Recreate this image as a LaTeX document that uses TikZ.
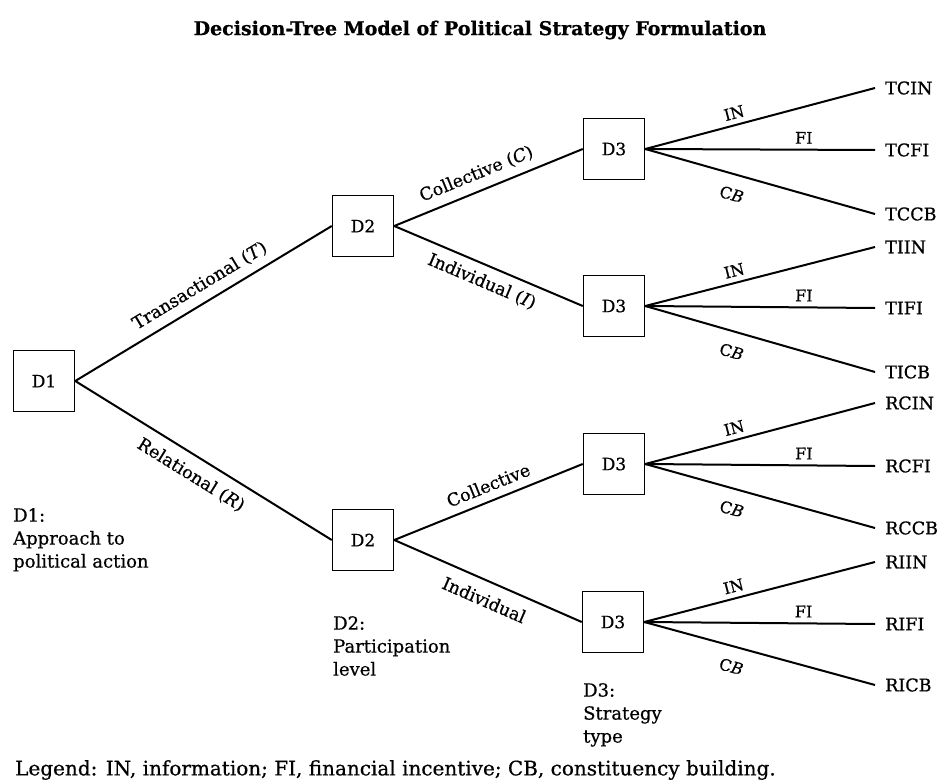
\documentclass[tikz,border=0pt]{standalone}
\usepackage{fontspec}
\setmainfont{DejaVu Serif}[FakeBold=0.6]
\begin{document}
\begin{tikzpicture}[x=1pt,y=-1pt,
  dbox/.style={draw,line width=1.5pt,minimum width=61pt,minimum height=61pt,inner sep=0pt,font=\fontsize{17}{19}\selectfont},
  br/.style={line width=2pt},
  lab/.style={font=\fontsize{17.5}{19}\selectfont,sloped,inner sep=8pt},
  slab/.style={font=\fontsize{16}{18}\selectfont,sloped,inner sep=5pt},
  leaf/.style={anchor=west,inner ysep=5pt,inner xsep=10pt,font=\fontsize{17.5}{19}\selectfont},
  captext/.style={anchor=north west,align=left,inner sep=0pt,font=\fontsize{18}{23}\selectfont}]
\useasboundingbox (0,0) rectangle (946,784);
\fill[white] (0,0) rectangle (946,784);
\node[font=\bfseries\fontsize{19}{22}\selectfont] (title) at (480,30) {Decision-Tree Model of Political Strategy Formulation};
% decision boxes
\node[dbox] (d1) at (44,381) {D1};
\node[dbox] (d2t) at (363,226) {D2};
\node[dbox] (d2b) at (363,540) {D2};
\node[dbox] (d3a) at (614,149) {D3};
\node[dbox] (d3b) at (614,306) {D3};
\node[dbox] (d3c) at (614,464) {D3};
\node[dbox] (d3d) at (613,622) {D3};
% leaves
\node[leaf] (tcin) at (875,88) {TCIN};
\node[leaf] (tcfi) at (875,150) {TCFI};
\node[leaf] (tccb) at (875,214) {TCCB};
\node[leaf] (tiin) at (875,247) {TIIN};
\node[leaf] (tifi) at (875,308) {TIFI};
\node[leaf] (ticb) at (875,372) {TICB};
\node[leaf] (rcin) at (875,403) {RCIN};
\node[leaf] (rcfi) at (875,466) {RCFI};
\node[leaf] (rccb) at (875,528) {RCCB};
\node[leaf] (riin) at (875,562) {RIIN};
\node[leaf] (rifi) at (875,624) {RIFI};
\node[leaf] (ricb) at (875,685) {RICB};
% first level
\draw[br] (d1.east) -- node[lab,above,pos=0.52] {Transactional (\textit{T})} (d2t.west);
\draw[br] (d1.east) -- node[lab,below,pos=0.49,inner sep=10pt] {Relational (\textit{R})} (d2b.west);
% second level
\draw[br] (d2t.east) -- node[lab,above,pos=0.47] {Collective (\textit{C})} (d3a.west);
\draw[br] (d2t.east) -- node[lab,below,pos=0.5] {Individual (\textit{I})} (d3b.west);
\draw[br] (d2b.east) -- node[lab,above,pos=0.53] {Collective} (d3c.west);
\draw[br] (d2b.east) -- node[lab,below,pos=0.52,inner sep=11pt] {Individual} (d3d.west);
% third level
\foreach \d/\a/\b/\c in {d3a/tcin/tcfi/tccb,d3b/tiin/tifi/ticb,d3c/rcin/rcfi/rccb,d3d/riin/rifi/ricb}{
  \draw[br] (\d.east) -- node[slab,above,pos=0.4] {IN} (\a.west);
  \draw[br] (\d.east) -- node[slab,above,pos=0.69] {FI} (\b.west);
  \draw[br] (\d.east) -- node[slab,below,pos=0.4,inner sep=13pt] {C\textit{B}} (\c.west);
}
% captions
\node[captext] (c1) at (13,508) {D1:\\Approach to\\political action};
\node[captext] (c2) at (333,616) {D2:\\Participation\\level};
\node[captext] (c3) at (583,683) {D3:\\Strategy\\type};
\node[anchor=west,inner sep=0pt,font=\fontsize{20}{22}\selectfont] (legend) at (15,770) {Legend: IN, information; FI, financial incentive; CB, constituency building.};
\end{tikzpicture}
\end{document}
